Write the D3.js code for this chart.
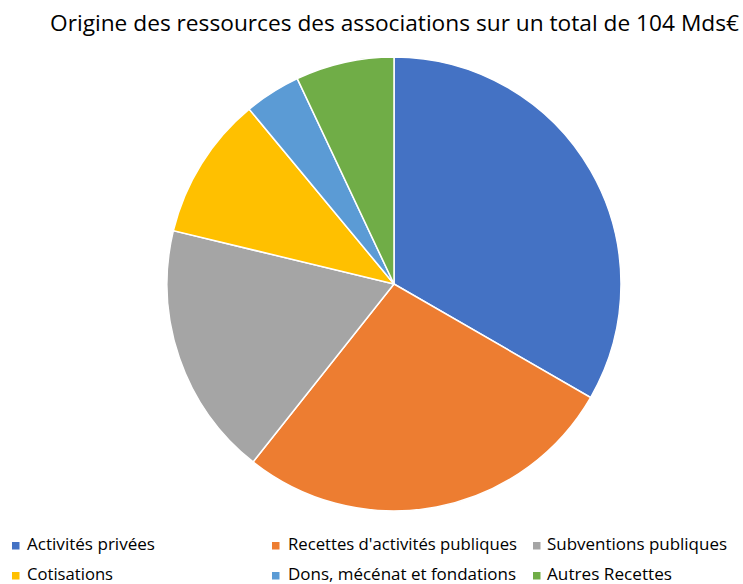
<!DOCTYPE html>
<html>
<head>
<meta charset="utf-8">
<script src="https://cdn.jsdelivr.net/npm/d3@7"></script>
<style>
  body { margin: 0; background: #fff; }
  svg text { font-family: "Open Sans", sans-serif; fill: #000; }
</style>
</head>
<body>
<div id="chart"></div>
<script>
// values (percent of 104 Mds€)
const categories = ["Activités privées", "Recettes d'activités publiques", "Subventions publiques",
    "Cotisations", "Dons, mécénat et fondations", "Autres Recettes"];
const values = [33.3, 27.3, 18.1, 10.2, 4.0, 7.0];
const colors = ["#4472C4", "#ED7D31", "#A5A5A5", "#FFC000", "#5B9BD5", "#70AD47"];
const title = "Origine des ressources des associations sur un total de 104 Mds€";

const width = 743, height = 584;

const svg = d3.select("#chart").append("svg")
    .attr("width", width)
    .attr("height", height);

svg.append("text")
    .attr("x", 50)
    .attr("y", 31)
    .attr("font-size", "21px")
    .attr("textLength", 689)
    .attr("lengthAdjust", "spacingAndGlyphs")
    .text(title);

const data = categories.map((c, i) => ({ name: c, value: values[i], color: colors[i] }));

const pie = d3.pie()
    .sort(null)
    .value(d => d.value);

const arc = d3.arc()
    .innerRadius(0)
    .outerRadius(227);

const g = svg.append("g")
    .attr("transform", "translate(394,284)");

g.selectAll("path")
    .data(pie(data))
    .enter().append("path")
    .attr("d", arc)
    .attr("fill", d => d.data.color)
    .attr("stroke", "#fff")
    .attr("stroke-width", 1.5);

// legend, 3 columns x 2 rows
const colX = [12, 272, 533];
const rowY = [545.5, 575.5];
// text widths measured in the picture
const textW = [128, 229, 180, 86, 228, 125];

const legend = svg.selectAll(".legend")
    .data(data)
    .enter().append("g")
    .attr("class", "legend")
    .attr("transform", (d, i) => "translate(" + colX[i % 3] + "," + rowY[Math.floor(i / 3)] + ")");

legend.append("rect")
    .attr("x", 0)
    .attr("y", -3.5)
    .attr("width", 7.5)
    .attr("height", 7.5)
    .attr("fill", d => d.color);

legend.append("text")
    .attr("x", (d, i) => [15, 16, 14][i % 3])
    .attr("y", 4.5)
    .attr("font-size", "16px")
    .attr("textLength", (d, i) => textW[i])
    .attr("lengthAdjust", "spacingAndGlyphs")
    .text(d => d.name);
</script>
</body>
</html>
